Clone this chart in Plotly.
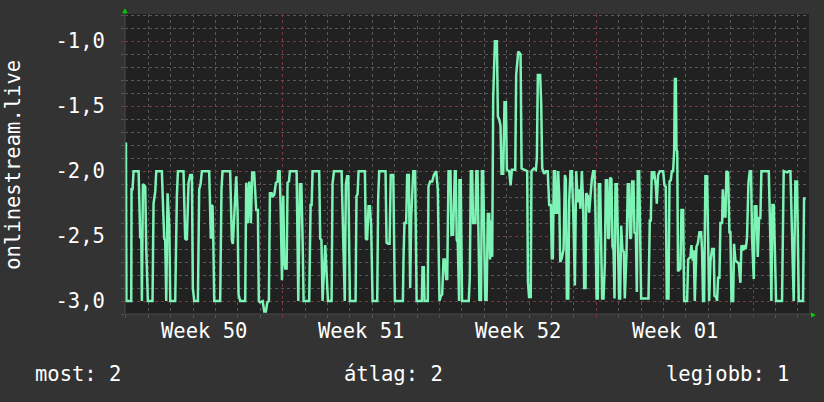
import plotly.graph_objects as go

# ---- data (hours since start of the graph, value) ----
hours = [
    0, 0.5, 5.7, 6.0, 7.1, 8.2, 13.6, 15.3, 16.5, 17.1, 18.2, 20.7, 21.8, 23.5, 28.5, 29.6, 31.4, 32.5, 38.5,
    41.0, 42.1, 43.2, 44.6, 45.7, 46.5, 47.5, 52.8, 54.6, 55.7, 61.7, 63.5, 65.3, 67.1, 68.9, 70.7, 71.7, 73.2,
    77.1, 78.5, 80, 81.4, 89.2, 90.3, 91, 91.7, 92.8, 93.5, 94.6, 101, 102.4, 103.5, 111.7, 113.5, 114.6, 116.4,
    118.2, 119.6, 120.7, 122.4, 127.8, 128.9, 130.6, 132.1, 133.9, 135.3, 137.4, 139.6, 141.4, 142.4,
    143.6, 146.5, 148.2, 150, 151.5, 153.2, 154.3, 156.1, 157.2, 159, 160.7, 162.5, 163.2, 164.7, 165.7, 167.2,
    168.6, 169.7, 170.7, 172.2, 173.2, 174.7, 175.7, 182.9, 184.7, 186.4, 188, 189.3, 190.4, 196.4, 197.9, 199,
    200, 207.1, 208.2, 209.5, 210.7, 213.6, 216.5, 220.4, 221.4, 222.9, 231.1, 232.9, 234.5, 235.7, 237.1, 238.3,
    240, 246.1, 247.1, 248.2, 249.3, 256.1, 257.1, 258.5, 260, 261.5, 262.8, 264.3, 269.3, 270.3, 271.4, 278.2,
    279.3, 281, 282.5, 283.8, 286.5, 288.2,
    296.8, 297.5, 298.5, 300.3, 301.4, 303.2, 304.6, 305.7, 307.9, 309.9, 311.5, 317.1, 317.8, 319.2, 320, 323.5,
    324.2, 326, 328.2, 330, 332.5, 334.2, 336, 337.5, 338.9, 340.3, 341.7, 343.2, 344.3, 345.7, 347.8, 348.8,
    350.6, 352.4, 353.4, 354.5, 355.6, 357, 357.4, 358.8, 360.2, 367.4, 368.5, 369.6, 371, 372, 374.5, 375.5,
    376.8, 377.8, 378.8, 380.5, 381.5, 382.8, 383.8, 385, 386.5, 387.8, 389.3, 390.2, 391.4, 392.5, 393.6, 395.4,
    397.5, 398.6, 400, 401.4, 402.5, 404.3, 405.7, 407.2, 408.2, 410.7, 412.2, 413.6, 417.2, 418.2, 420.4, 422.9,
    424, 430, 430.8, 432, 433.8, 434.6, 437, 439.3, 440.4, 441.4, 443.9, 445, 446.1, 448.2, 450, 452,
    453.6, 455.4, 456.4, 457.5, 458.6, 460, 460.7, 462.1, 463.2, 464.3, 465.4, 467.1, 469, 470.4, 471.4, 472.5,
    474, 475, 476.4, 477.8, 479.3, 481.1, 482.5, 484.3, 485.7, 487.1, 488.6, 490, 491.1, 492.5, 493.2, 495,
    496.4, 497.8, 499.3, 500.7, 502.1, 503.2, 504.3, 505.7, 506.8, 508.2, 509.3, 510.3, 511.8, 513.2, 514.3,
    515.7, 516.8, 517.8, 518.9, 520.3, 521.4, 522.5, 523.6, 524.6, 526, 527.1, 528.5, 529.6, 530.7, 532.1,
    533.5, 534.6, 536.4, 537.8, 539.2, 540.3, 541.4, 542.5, 543.9, 545, 546.4, 547.5, 548.5, 550, 551, 552.1,
    560, 561.4, 562.5, 563.5, 565, 566, 567.8, 568.9, 570.3, 572.1, 575.7, 577.1, 578.5, 579.6, 581.4, 582.5,
    583.9, 585, 586.4, 587.5, 588.3, 589.3, 590, 590.8, 591.6, 594.2, 595.3, 597.1, 598.2, 601.4, 602.5, 605,
    606, 607.5, 608.5, 609.6, 611.4, 612.8, 614.6, 616.4, 617.4, 618.5, 619.6, 621, 622.8, 623.9, 625, 626.4,
    628.2, 630, 630.7, 632.5, 633.5, 634.6, 636, 637.1, 638.9, 639.6, 641.4, 642.5, 643.5, 645.3, 646.7, 647.8,
    648.9, 650.7, 651.7, 653.2, 655, 656.7, 658.5, 659.6, 661.4, 662.8, 664.2, 665.6, 667.1, 668.5, 669.9, 671,
    672.8, 673.9, 675.6, 677.1, 678.5, 679.9, 681, 688.9, 690.7, 691.7, 692.8, 694.2, 695.3, 696.7, 703.1,
    703.8, 704.9, 708.5, 710.3, 712.1, 713.9, 715.6, 717.4, 719.2, 721, 725.6, 726.7, 728.5,
]
values = [
    -1.78, -3.0, -3.0, -2.14, -2.14, -2.0, -2.0, -2.51, -2.52, -3.0, -2.1, -2.12, -2.6, -3.0, -3.0, -2.25, -2.16, -2.0, -2.0,
    -2.52, -2.53, -3.0, -2.17, -2.42, -2.43, -3.0, -3.0, -2.19, -2.0, -2.0, -2.52, -2.53, -2.09, -2.03, -2.03, -2.9, -3.0,
    -3.0, -2.14, -2.1, -2.0, -2.0, -2.51, -2.52, -2.26, -2.27, -2.47, -3.0, -3.0, -2.14, -2.0, -2.0, -2.53, -2.56, -2.3,
    -2.04, -2.3, -2.95, -3.0, -3.0, -2.09, -2.4, -2.08, -2.4, -2.01, -2.01, -2.3, -2.3, -3.0,
    -3.01, -3.0, -3.08, -3.08, -3.01, -3.0, -2.17, -2.17, -2.2, -2.18, -2.09, -2.08, -2.0, -2.0, -2.25, -2.84,
    -2.19, -2.69, -2.75, -2.75, -2.09, -2.08, -2.0, -2.0, -3.0, -2.1, -2.1, -2.52, -3.0, -3.0, -2.26, -2.26,
    -2.0, -2.0, -2.52, -2.53, -3.0, -2.57, -3.0, -3.0, -2.1, -2.0, -2.0, -2.53, -3.0, -2.1, -2.04, -2.04,
    -3.0, -3.0, -2.19, -2.18, -2.0, -2.0, -2.52, -2.53, -2.27, -2.27, -2.43, -3.0, -3.0, -2.21, -2.0, -2.0,
    -2.55, -2.56, -2.56, -2.03, -2.03, -3.0,
    -3.0, -2.66, -2.4, -2.4, -2.03, -2.03, -2.9, -2.36, -2.0, -2.0, -3.0, -3.0, -2.74, -2.74, -3.0, -3.0,
    -2.12, -2.08, -2.08, -2.03, -2.0, -2.14, -3.0, -2.96, -2.95, -2.68, -2.68, -2.83, -2.83, -2.0, -2.0, -2.49,
    -2.49, -2.0, -2.0, -2.53, -2.55, -3.0, -2.07, -2.07, -3.0, -3.0, -2.82, -2.0, -2.0, -2.4, -2.4, -2.0,
    -2.0, -2.48, -2.99, -2.99, -2.0, -2.0, -2.43, -2.99, -2.99, -2.33, -2.33, -2.68, -2.38, -2.66, -1.43, -1.0,
    -1.0, -1.58, -1.6, -1.65, -2.02, -2.02, -1.47, -1.47, -1.99, -2.0, -2.11, -1.99, -1.99, -1.26, -1.08, -1.1,
    -1.98, -2.0, -2.85, -2.97, -2.97, -2.0, -1.98, -1.99, -1.9, -1.26, -1.26, -1.48, -1.98, -2.02, -2.0, -2.0,
    -2.26, -2.26, -2.67, -2.67, -2.0, -2.0, -2.32, -2.32, -2.0, -2.19, -2.7, -2.67, -2.6, -2.03, -2.06, -2.98,
    -2.98, -2.23, -2.0, -2.0, -2.29, -2.88, -2.0, -2.24, -2.14, -2.29, -2.0, -2.26, -2.9, -2.9, -2.17, -2.19,
    -2.32, -2.19, -2.06, -2.0, -2.0, -2.34, -2.98, -2.98, -2.1, -2.1, -2.5, -2.98, -2.98, -2.71, -2.07,
    -2.07, -2.52, -2.51, -2.05, -2.06, -2.58, -2.6, -2.98, -2.1, -2.1, -2.65, -2.98, -2.98, -2.42, -2.61,
    -2.62, -2.98, -2.64, -2.1, -2.1, -2.52, -2.51, -2.08, -2.08, -2.48, -2.47, -2.93, -2.0, -2.0, -2.46, -2.98,
    -2.98, -2.38, -2.38, -2.0, -2.06, -2.0, -2.11, -2.25, -2.03, -2.0, -2.0, -2.11, -2.12, -2.98, -2.98, -2.08,
    -2.07, -2.0, -2.0, -1.85, -1.29, -1.29, -1.83, -1.85, -2.77, -2.75, -2.3, -2.3, -3.0, -3.0, -2.68, -2.66,
    -2.57, -2.69, -2.61, -3.0, -2.58, -2.56, -2.47, -2.47, -2.61, -3.0, -3.0, -2.04, -2.04, -2.52, -3.0, -2.69,
    -2.6, -2.6, -2.96, -2.97, -3.0, -2.82, -2.82, -2.4, -2.4, -2.14, -2.35, -2.35, -2.0, -2.01, -2.47, -2.47,
    -3.0, -3.0, -2.56, -2.69, -2.7, -2.71, -2.86, -2.57, -2.61, -2.57, -2.6, -2.51, -2.09, -2.0, -2.0, -2.52,
    -2.83, -2.27, -2.27, -2.66, -2.36, -2.36, -2.0, -2.0, -2.56, -3.0, -2.26, -2.26, -2.57, -3.0, -3.0,
    -2.51, -2.0, -2.01, -2.0, -2.0, -2.52, -3.0, -2.08, -2.08, -3.0, -3.0, -2.21, -2.21,
]

y_tick_values = [-3.0, -2.5, -2.0, -1.5, -1.0]
y_tick_labels = ["-3,0", "-2,5", "-2,0", "-1,5", "-1,0"]
week_labels = ["Week 50", "Week 51", "Week 52", "Week 01"]
week_hours = [168, 336, 504, 672]          # week boundaries (hours)
week_label_hours = [84, 252, 420, 588]     # middle of each week
y_title = "onlinestream.live"
footer = ["most: 2", "átlag: 2", "legjobb: 1"]

FONT = "DejaVu Sans Mono"
FS = 20.5
BG = "#333333"
CANVAS = "#212121"
MINOR = "#575757"
MAJOR = "#7a3a3a"
LINE = "#7ef3b6"

fig = go.Figure()
fig.add_trace(go.Scatter(
    x=hours, y=values, mode="lines",
    line=dict(color=LINE, width=2.5),
    hoverinfo="skip", showlegend=False,
))

fig.update_layout(
    width=824, height=402,
    margin=dict(l=125, r=15, t=14, b=88),
    paper_bgcolor=BG, plot_bgcolor=CANVAS,
    font=dict(family=FONT, size=FS, color="white"),
    showlegend=False,
)

fig.update_xaxes(
    range=[-1, 732],
    tickmode="array", tickvals=week_hours, showticklabels=False,
    showgrid=True, gridcolor=MAJOR, griddash="dot", gridwidth=1,
    ticks="outside", ticklen=3, tickcolor=MAJOR,
    minor=dict(dtick=24, tick0=0, showgrid=True, gridcolor=MINOR, griddash="dot",
               ticks="outside", ticklen=3, tickcolor=MINOR),
    showline=False, zeroline=False,
)
fig.update_yaxes(
    range=[-3.1, -0.79],
    tickmode="array", tickvals=y_tick_values, ticktext=y_tick_labels,
    showgrid=True, gridcolor=MAJOR, griddash="dot", gridwidth=1,
    ticks="outside", ticklen=3, tickcolor=MAJOR,
    tickfont=dict(family=FONT, size=FS, color="white"),
    ticklabelstandoff=12,
    minor=dict(dtick=0.1, tick0=-3.0, showgrid=True, gridcolor=MINOR, griddash="dot",
               ticks="outside", ticklen=3, tickcolor=MINOR),
    showline=False, zeroline=False,
)

# axis lines and arrows
fig.add_shape(type="line", xref="paper", yref="paper", x0=0, x1=1.004, y0=0, y1=0,
              line=dict(color="#4a4a4a", width=1))
fig.add_shape(type="line", xref="paper", yref="paper", x0=0, x1=0, y0=0, y1=1.005,
              line=dict(color="#4a4a4a", width=1))
fig.add_shape(type="path", xref="paper", yref="paper",
              path="M -0.004,1.0023 L 0.004,1.0023 L 0,1.019 Z",
              fillcolor="#00d000", line=dict(width=0))
fig.add_shape(type="path", xref="paper", yref="paper",
              path="M 1.0029,-0.0113 L 1.0029,0.0053 L 1.0102,-0.003 Z",
              fillcolor="#00d000", line=dict(width=0))

for lbl, h in zip(week_labels, week_label_hours):
    fig.add_annotation(x=h, y=-0.057, xref="x", yref="paper", text=lbl, showarrow=False,
                       xanchor="center", yanchor="middle",
                       font=dict(family=FONT, size=FS, color="white"))

fig.add_annotation(x=-0.164, y=0.497, xref="paper", yref="paper", text=y_title, textangle=-90,
                   showarrow=False, xanchor="center", yanchor="middle",
                   font=dict(family=FONT, size=FS, color="white"))

fig.add_annotation(x=-0.135, y=-0.2, xref="paper", yref="paper", text=footer[0], showarrow=False,
                   xanchor="left", yanchor="middle", font=dict(family=FONT, size=FS, color="white"))
fig.add_annotation(x=0.392, y=-0.2, xref="paper", yref="paper", text=footer[1], showarrow=False,
                   xanchor="center", yanchor="middle", font=dict(family=FONT, size=FS, color="white"))
fig.add_annotation(x=0.973, y=-0.2, xref="paper", yref="paper", text=footer[2], showarrow=False,
                   xanchor="right", yanchor="middle", font=dict(family=FONT, size=FS, color="white"))

assert len(hours) == len(values)
fig.write_html("out.html",
               config={"displayModeBar": False, "staticPlot": True},
               post_script="document.body.style.margin='0';document.body.style.background='#333333';")
